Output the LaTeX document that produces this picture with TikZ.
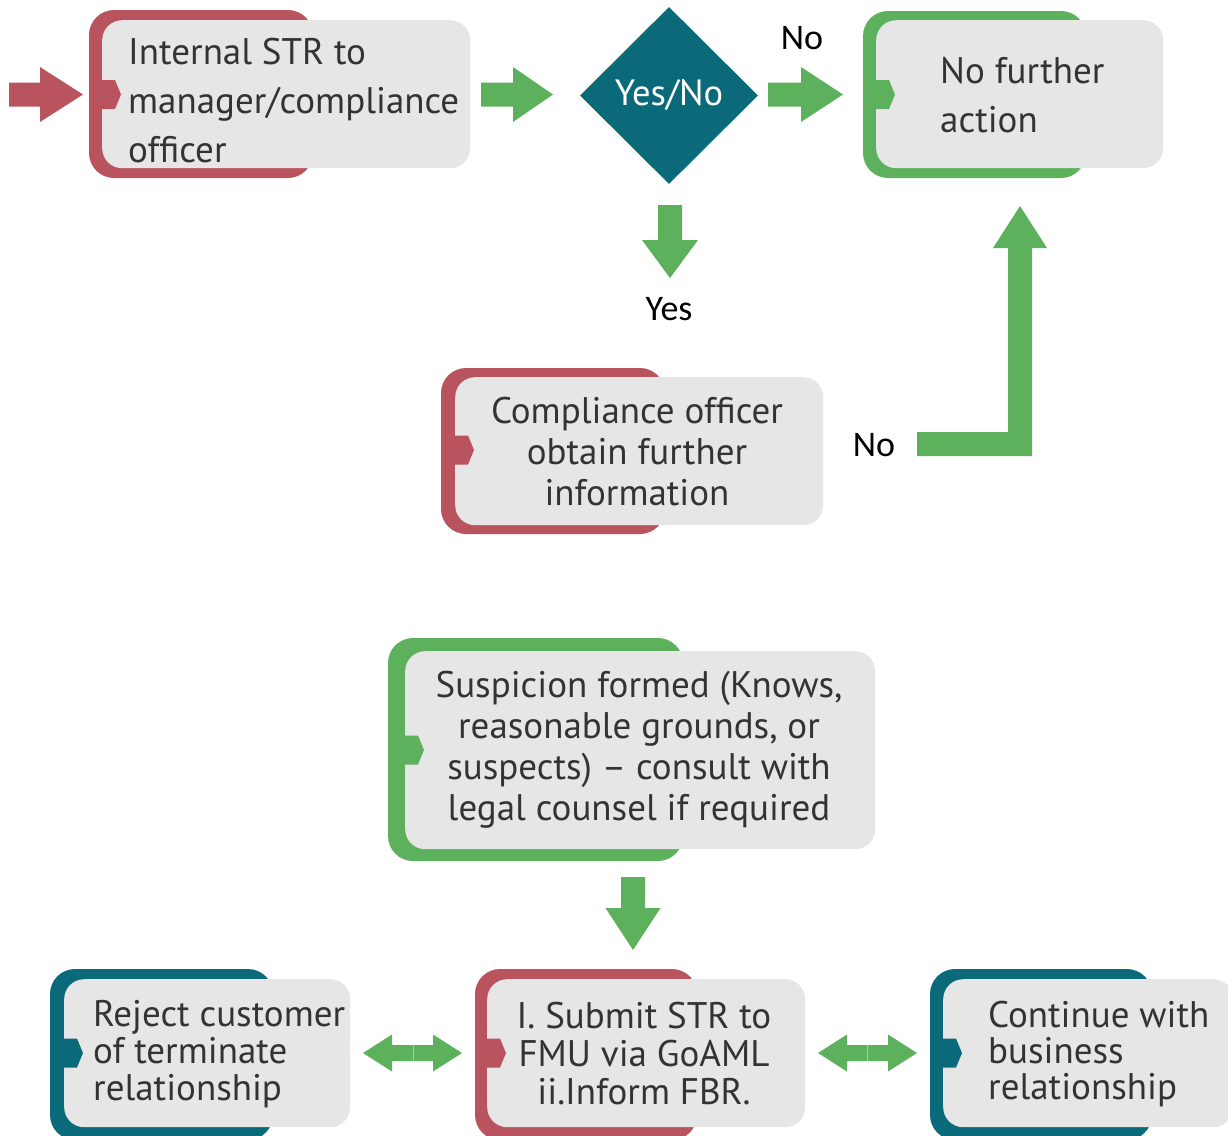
\documentclass[tikz,border=0pt]{standalone}
\usepackage{fontspec}
\setmainfont{PT Sans}
\newfontfamily\labelfont{Carlito}
\usetikzlibrary{shapes.geometric}

\definecolor{brickred}{HTML}{B9535D}
\definecolor{leafgreen}{HTML}{5DB15D}
\definecolor{deepteal}{HTML}{0A6A7A}
\definecolor{panelgrey}{HTML}{E6E6E6}
\definecolor{inkgrey}{HTML}{333333}

\tikzset{
  panel/.style={fill=panelgrey, rounded corners=20pt, inner sep=0pt, anchor=north west},
  boxtext/.style={text=inkgrey, inner sep=0pt, font=\fontsize{37}{41}\selectfont},
  lbl/.style={text=black, inner sep=0pt, font=\labelfont\fontsize{36}{40}\selectfont},
  pics/blockarrow/.style args={#1/#2/#3/#4/#5}{code={
    \fill[#5] (0,-#2) -- (#1-#4,-#2) -- (#1-#4,-#3) -- (#1,0)
      -- (#1-#4,#3) -- (#1-#4,#2) -- (0,#2) -- cycle;}},
}

% coloured back plate of a step: colour, left, top, right, bottom
\newcommand\backplate[5]{\fill[#1, rounded corners=25pt] (#2,#3) rectangle (#4,#5);}
% small pointer tab on the panel edge: colour, panel left, vertical centre
\newcommand\edgetab[3]{\fill[#1] (#2-2,#3-14.5) -- (#2+13,#3-14.5) -- (#2+19,#3)
  -- (#2+13,#3+14.5) -- (#2-2,#3+14.5) -- cycle;}

\begin{document}
\begin{tikzpicture}[x=1pt, y=-1pt]
\useasboundingbox (0,0) rectangle (1228,1135);

% ---- step: internal STR
\backplate{brickred}{89}{10}{313}{178}
\node[panel, minimum width=368pt, minimum height=148pt] (p1) at (102,20) {};
\edgetab{brickred}{102}{94.5}
\node[boxtext, align=left, anchor=west, font=\fontsize{37}{49}\selectfont] (t1) at (128,101)
  {Internal STR to\\manager/compliance\\officer};

% ---- decision
\node[diamond, fill=deepteal, minimum width=178pt, minimum height=177pt, inner sep=0pt,
  text=white, font=\fontsize{36.5}{38}\selectfont] (dec) at (669,95.5) {Yes/No};

% ---- step: no further action
\backplate{leafgreen}{863}{11}{1086}{178}
\node[panel, minimum width=287pt, minimum height=148pt] (p2) at (876,20) {};
\edgetab{leafgreen}{876}{94.5}
\node[boxtext, align=left, anchor=west, font=\fontsize{37}{49}\selectfont] (t2) at (940,95.5)
  {No further\\action};

% ---- step: obtain further information
\backplate{brickred}{441}{368}{665}{534}
\node[panel, minimum width=368pt, minimum height=148pt] (p3) at (455,377) {};
\edgetab{brickred}{455}{450}
\node[boxtext, align=center] (t3) at (637,452)
  {Compliance officer\\obtain further\\information};

% ---- step: suspicion formed
\backplate{leafgreen}{388}{638}{683}{861}
\node[panel, minimum width=470pt, minimum height=198pt] (p4) at (405,651) {};
\edgetab{leafgreen}{405}{750}
\node[boxtext, align=center] (t4) at (639,750)
  {Suspicion formed (Knows,\\reasonable grounds, or\\suspects) -- consult with\\legal counsel if required};

% ---- outcome: reject customer
\backplate{deepteal}{50}{969}{273}{1140}
\node[panel, minimum width=286pt, minimum height=148pt] (p5) at (64,979) {};
\edgetab{deepteal}{64}{1053}
\node[boxtext, align=left, anchor=west, font=\fontsize{37}{37}\selectfont] (t5) at (93,1054)
  {Reject customer\\of terminate\\relationship};

% ---- step: submit STR
\backplate{brickred}{475}{969}{697}{1140}
\node[panel, minimum width=318pt, minimum height=148pt] (p6) at (487,979) {};
\edgetab{brickred}{487}{1053}
\node[boxtext, align=center, font=\fontsize{37}{38}\selectfont] (t6) at (644,1054)
  {I. Submit STR to\\FMU via GoAML\\ii.Inform FBR.};

% ---- outcome: continue relationship
\backplate{deepteal}{930}{969}{1152}{1140}
\node[panel, minimum width=290pt, minimum height=148pt] (p7) at (943,979) {};
\edgetab{deepteal}{943}{1053}
\node[boxtext, align=left, anchor=west, font=\fontsize{37}{36}\selectfont] (t7) at (988,1054)
  {Continue with\\business\\relationship};

% ---- branch labels
\node[lbl] (lno1) at (802,38) {No};
\node[lbl] (lyes) at (669,309) {Yes};
\node[lbl] (lno2) at (874,445) {No};

% ---- block arrows
\coordinate (a0) at (9,94.5);
\pic at (a0) {blockarrow=74/12/27.5/43/brickred};
\coordinate (a1) at (481,94.5);
\pic at (a1) {blockarrow=72/12/27.5/40/leafgreen};
\coordinate (a2) at (768,94.5);
\pic at (a2) {blockarrow=75/12/27.5/42/leafgreen};
\coordinate (a3) at (670,205);
\pic[rotate=-90] at (a3) {blockarrow=73/12/28/38/leafgreen};
\coordinate (a5) at (633,877);
\pic[rotate=-90] at (a5) {blockarrow=73/12/27.5/42/leafgreen};

% return path from the information step back to "no further action"
\coordinate (lfoot) at (917,444);
\coordinate (ltip) at (1020,206);
\fill[leafgreen] (lfoot) ++(0,-12) -- (1008,432) -- (1008,248) -- (993,248) -- (ltip)
  -- (1047,248) -- (1032,248) -- (1032,456) -- (917,456) -- cycle;

% two-way arrows between the bottom row
\coordinate (d1) at (413,1053);
\pic[rotate=180] at (d1) {blockarrow=50/8/18.5/29/leafgreen};
\pic at (d1) {blockarrow=49/8/18.5/29/leafgreen};
\draw[green!25!leafgreen!60!white, line width=0.8pt] (d1) ++(0,-8) -- ++(0,16);
\coordinate (d2) at (867.5,1053);
\pic[rotate=180] at (d2) {blockarrow=49.5/8/18.5/29/leafgreen};
\pic at (d2) {blockarrow=49.5/8/18.5/29/leafgreen};
\draw[green!25!leafgreen!60!white, line width=0.8pt] (d2) ++(0,-8) -- ++(0,16);

\end{tikzpicture}
\end{document}
